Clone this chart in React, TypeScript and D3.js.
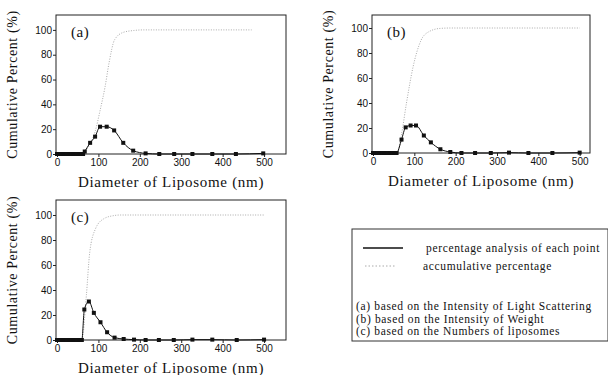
import { useEffect, useRef } from 'react';
import * as d3 from 'd3';

// particle sizes (nm) and percentage of each point
const sizeA = [0, 3, 6, 9, 12, 15, 18, 21, 24, 27, 30, 33, 36, 39, 42, 45, 48, 51, 54, 57, 60, 63, 67, 80, 92, 104, 120, 138, 160, 184, 214, 247, 283, 327, 375, 432, 498];
const pctA = [0, 0, 0, 0, 0, 0, 0, 0, 0, 0, 0, 0, 0, 0, 0, 0, 0, 0, 0, 0, 0, 0, 2, 9, 14, 22, 22, 19, 9, 2.7, 0.5, 0, 0, 0, 0, 0, 0.5];
const cumSizeA = [0, 62, 67, 80, 92, 104, 116, 126, 139, 160, 185, 210, 300, 400, 470];
const cumA = [0, 0, 2, 8, 18, 35, 54, 74, 92, 98, 99.5, 100, 100, 100, 100];

const sizeB = [0, 3, 6, 9, 12, 15, 18, 21, 24, 27, 30, 33, 36, 39, 42, 45, 48, 51, 54, 57, 69, 79, 91, 104, 123, 140, 163, 187, 214, 247, 285, 329, 376, 434, 500];
const pctB = [0, 0, 0, 0, 0, 0, 0, 0, 0, 0, 0, 0, 0, 0, 0, 0, 0, 0, 0, 0, 10.7, 20.5, 22, 22, 14, 8.5, 3, 0.8, 0, 0, 0, 0.3, 0, 0, 0.3];
const cumSizeB = [0, 58, 69, 81, 97, 116, 135, 163, 190, 300, 400, 500];
const cumB = [0, 0, 15, 40, 69, 90, 97, 99.7, 100, 100, 100, 100];

const sizeC = [0, 3, 6, 9, 12, 15, 18, 21, 24, 27, 30, 33, 36, 39, 42, 45, 48, 51, 54, 57, 60, 66, 77, 89, 105, 121, 139, 161, 186, 214, 246, 282, 327, 375, 434, 500];
const pctC = [0, 0, 0, 0, 0, 0, 0, 0, 0, 0, 0, 0, 0, 0, 0, 0, 0, 0, 0, 0, 0, 24.4, 30.8, 21.7, 14.2, 6.2, 1.9, 0.8, 0.3, 0, 0, 0, 0.3, 0.3, 0, 0.3];
const cumSizeC = [0, 60, 71, 79, 93, 113, 137, 153, 300, 400, 500];
const cumC = [0, 0, 36, 70, 89, 97, 99.5, 100, 100, 100, 100];

const xTicks = [0, 100, 200, 300, 400, 500];
const yTicks = [0, 20, 40, 60, 80, 100];

const legendSeries = ["percentage analysis of each point", "accumulative percentage"];
const legendNotes = [
    "(a) based on the Intensity of Light Scattering",
    "(b) based on the Intensity of Weight",
    "(c) based on the Numbers of liposomes"
];

const serif = "Liberation Serif";
const sans = "Liberation Sans";

interface Panel {
    label: string;
    size: number[];
    pct: number[];
    cumSize: number[];
    cum: number[];
    box: { x0: number; x1: number; y0: number; y1: number };
    xMax: number;
    yMax: number;
}

const panels: Panel[] = [
    { label: "(a)", size: sizeA, pct: pctA, cumSize: cumSizeA, cum: cumA, box: { x0: 56, x1: 286, y0: 15, y1: 154 }, xMax: 553, yMax: 112 },
    { label: "(b)", size: sizeB, pct: pctB, cumSize: cumSizeB, cum: cumB, box: { x0: 372, x1: 590, y0: 15, y1: 153 }, xMax: 525, yMax: 110.4 },
    { label: "(c)", size: sizeC, pct: pctC, cumSize: cumSizeC, cum: cumC, box: { x0: 56, x1: 286, y0: 200, y1: 340 }, xMax: 553, yMax: 112 },
];

export default function App() {
    const svgRef = useRef<SVGSVGElement>(null);

    useEffect(() => {
        if (!svgRef.current) return;
        const svg = d3.select(svgRef.current);
        svg.selectAll("*").remove();

        panels.forEach(p => {
            const { x0, x1, y0, y1 } = p.box;
            const x = d3.scaleLinear().domain([0, p.xMax]).range([x0 + 1, x1]);
            const y = d3.scaleLinear().domain([0, p.yMax]).range([y1, y0]);
            const g = svg.append("g");

            // frame
            g.append("rect")
                .attr("x", x0).attr("y", y0)
                .attr("width", x1 - x0).attr("height", y1 - y0)
                .attr("fill", "none").attr("stroke", "#222").attr("stroke-width", 1);

            // axes
            const xa = g.append("g")
                .attr("transform", `translate(0,${y1})`)
                .call(d3.axisBottom(x).tickValues(xTicks).tickSize(3).tickPadding(2));
            const ya = g.append("g")
                .attr("transform", `translate(${x0},0)`)
                .call(d3.axisLeft(y).tickValues(yTicks).tickSize(3).tickPadding(1));
            [xa, ya].forEach(a => {
                a.attr("font-family", sans).attr("font-size", 10);
                a.select(".domain").remove();
                a.selectAll("line").attr("stroke", "#222");
                a.selectAll("text").attr("fill", "#111");
            });

            // cumulative (dotted gray)
            const cumLine = d3.line<number>()
                .x((d, i) => x(p.cumSize[i]))
                .y(d => y(d))
                .curve(d3.curveMonotoneX);
            g.append("path")
                .datum(p.cum)
                .attr("d", cumLine)
                .attr("fill", "none")
                .attr("stroke", "#aaa")
                .attr("stroke-width", 1)
                .attr("stroke-dasharray", "1,1.5");

            // percentage of each point
            const pctLine = d3.line<number>()
                .x((d, i) => x(p.size[i]))
                .y(d => y(d))
                .curve(d3.curveMonotoneX);
            g.append("path")
                .datum(p.pct)
                .attr("d", pctLine)
                .attr("fill", "none")
                .attr("stroke", "#111")
                .attr("stroke-width", 1);

            g.selectAll(".pt")
                .data(p.pct)
                .enter()
                .append("rect")
                .attr("x", (d, i) => x(p.size[i]) - 2)
                .attr("y", d => y(d) - 2)
                .attr("width", 4)
                .attr("height", 4)
                .attr("fill", "#111");

            // panel label
            g.append("text")
                .attr("x", x0 + 15).attr("y", y0 + 22)
                .attr("font-family", serif).attr("font-size", 15)
                .attr("letter-spacing", 0.5)
                .attr("fill", "#111")
                .text(p.label);

            // axis titles
            g.append("text")
                .attr("x", (x0 + x1) / 2).attr("y", y1 + 33)
                .attr("text-anchor", "middle")
                .attr("font-family", serif).attr("font-size", 15)
                .attr("letter-spacing", 0.7)
                .attr("fill", "#111")
                .text("Diameter of Liposome (nm)");
            g.append("text")
                .attr("transform", `translate(${x0 - 39},${(y0 + y1) / 2}) rotate(-90)`)
                .attr("text-anchor", "middle")
                .attr("font-family", serif).attr("font-size", 14)
                .attr("letter-spacing", 0.6)
                .attr("fill", "#111")
                .text("Cumulative Percent (%)");
        });

        // legend
        const lg = svg.append("g")
            .attr("font-family", serif).attr("font-size", 11.5)
            .attr("letter-spacing", 0.65).attr("fill", "#111");
        lg.append("rect")
            .attr("x", 352).attr("y", 229)
            .attr("width", 256).attr("height", 112)
            .attr("fill", "none").attr("stroke", "#333").attr("stroke-width", 1);
        legendSeries.forEach((s, i) => {
            const yy = 248 + i * 18;
            lg.append("line")
                .attr("x1", i === 0 ? 363 : 365).attr("x2", i === 0 ? 403 : 395)
                .attr("y1", yy).attr("y2", yy)
                .attr("stroke", i === 0 ? "#111" : "#aaa")
                .attr("stroke-width", i === 0 ? 1.5 : 1)
                .attr("stroke-dasharray", i === 0 ? null : "1.5,2");
            lg.append("text")
                .attr("x", i === 0 ? 426 : 423).attr("y", yy + 4)
                .text(s);
        });
        legendNotes.forEach((s, i) => {
            lg.append("text")
                .attr("x", 356).attr("y", 310 + i * 12.5)
                .text(s);
        });
    }, []);

    return (
        <svg
            ref={svgRef}
            width={608}
            height={375}
            style={{ position: "absolute", left: 0, top: 0, background: "#fff" }}
        />
    );
}
